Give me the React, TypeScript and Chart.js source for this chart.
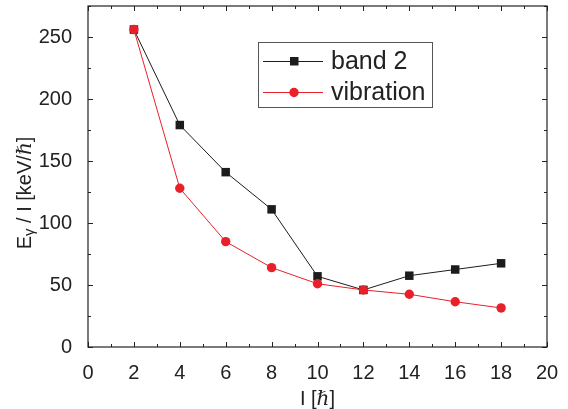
import React, { useEffect, useRef } from "react";
import { Chart, registerables } from "chart.js";

Chart.register(...registerables);

const spinI = [2, 4, 6, 8, 10, 12, 14, 16, 18];
const band2 = [256, 179, 141, 111, 57, 46, 57.5, 62.5, 67.5];
const vibration = [256, 128, 85, 64, 51, 46, 42.5, 36.5, 31.5];
const xTicks = [0, 2, 4, 6, 8, 10, 12, 14, 16, 18, 20];
const yTicks = [0, 50, 100, 150, 200, 250];
const legendLabels = ["band 2", "vibration"];

const BLACK = "#1c1c1c";
const RED = "#e8202a";
const FONT = "Arial, 'Liberation Sans', Helvetica, sans-serif";

const framePlugin = {
  id: "frame",
  afterDraw(chart: any) {
    const { ctx, chartArea: a } = chart;
    const xs = chart.scales.x;
    const ys = chart.scales.y;
    ctx.save();
    ctx.strokeStyle = "#222";
    ctx.lineWidth = 1.2;
    ctx.strokeRect(a.left, a.top, a.right - a.left, a.bottom - a.top);
    ctx.lineWidth = 1;
    ctx.beginPath();
    for (let v = 0; v <= 20; v += 1) {
      const px = Math.round(xs.getPixelForValue(v)) + 0.5;
      const len = v % 2 === 0 ? 5 : 3;
      ctx.moveTo(px, a.bottom);
      ctx.lineTo(px, a.bottom - len);
      ctx.moveTo(px, a.top);
      ctx.lineTo(px, a.top + len);
    }
    for (let v = 0; v <= 275; v += 25) {
      const py = Math.round(ys.getPixelForValue(v)) + 0.5;
      const len = v % 50 === 0 ? 5 : 3;
      ctx.moveTo(a.left, py);
      ctx.lineTo(a.left + len, py);
      ctx.moveTo(a.right, py);
      ctx.lineTo(a.right - len, py);
    }
    ctx.stroke();

    // axis titles
    ctx.fillStyle = "#222";
    ctx.textBaseline = "alphabetic";
    const cx = (a.left + a.right) / 2 - 0;
    const partsX: [string, string][] = [
      ["I [", `20px ${FONT}`],
      ["ℏ", `italic 20px 'Liberation Serif', 'DejaVu Serif', serif`],
      ["]", `20px ${FONT}`],
    ];
    let tw = 0;
    for (const [t, f] of partsX) {
      ctx.font = f;
      tw += ctx.measureText(t).width;
    }
    let x0 = cx - tw / 2;
    for (const [t, f] of partsX) {
      ctx.font = f;
      ctx.fillText(t, x0, 405);
      x0 += ctx.measureText(t).width;
    }

    ctx.save();
    ctx.translate(31, 193);
    ctx.rotate(-Math.PI / 2);
    const partsY: [string, string, number][] = [
      ["E", `20px ${FONT}`, 0],
      ["γ", `15px ${FONT}`, 3],
      [" / I [keV/", `20px ${FONT}`, 0],
      ["ℏ", `italic 20px 'Liberation Serif', 'DejaVu Serif', serif`, 0],
      ["]", `20px ${FONT}`, 0],
    ];
    tw = 0;
    for (const [t, f] of partsY) {
      ctx.font = f;
      tw += ctx.measureText(t).width;
    }
    x0 = -tw / 2;
    for (const [t, f, dy] of partsY) {
      ctx.font = f;
      ctx.fillText(t, x0, dy);
      x0 += ctx.measureText(t).width;
    }
    ctx.restore();

    // legend
    const lx = 258, ly = 42, lw = 174, lh = 65;
    ctx.fillStyle = "#fff";
    ctx.fillRect(lx, ly, lw, lh);
    ctx.strokeStyle = "#555";
    ctx.lineWidth = 1;
    ctx.strokeRect(lx + 0.5, ly + 0.5, lw, lh);
    const rows = [
      { y: 61, color: BLACK, shape: "rect" },
      { y: 92, color: RED, shape: "circle" },
    ];
    rows.forEach((r, i) => {
      ctx.strokeStyle = r.color;
      ctx.fillStyle = r.color;
      ctx.lineWidth = 1;
      ctx.beginPath();
      ctx.moveTo(263, r.y + 0.5);
      ctx.lineTo(323, r.y + 0.5);
      ctx.stroke();
      ctx.beginPath();
      if (r.shape === "rect") {
        ctx.rect(290, r.y - 4, 8.5, 8.5);
      } else {
        ctx.arc(294, r.y + 0.5, 4.7, 0, Math.PI * 2);
      }
      ctx.fill();
      ctx.fillStyle = "#222";
      ctx.font = `25px ${FONT}`;
      ctx.textBaseline = "middle";
      ctx.fillText(legendLabels[i], 331, r.y + 1);
    });
    ctx.restore();
  },
};

export default function App() {
  const ref = useRef<HTMLCanvasElement | null>(null);
  useEffect(() => {
    document.body.style.margin = "0";
    const chart = new Chart(ref.current!, {
      type: "line",
      data: {
        datasets: [
          {
            label: legendLabels[0],
            data: spinI.map((x, i) => ({ x, y: band2[i] })),
            borderColor: BLACK,
            backgroundColor: BLACK,
            borderWidth: 1,
            pointStyle: "rect",
            pointRadius: 6,
            pointBorderWidth: 0,
            order: 1,
          },
          {
            label: legendLabels[1],
            data: spinI.map((x, i) => ({ x, y: vibration[i] })),
            borderColor: RED,
            backgroundColor: RED,
            borderWidth: 1,
            pointStyle: "circle",
            pointRadius: 4.7,
            pointBorderWidth: 0,
            order: 0,
          },
        ],
      },
      options: {
        animation: false,
        responsive: false,
        maintainAspectRatio: false,
        layout: { padding: { top: 5, right: 21, left: 0, bottom: 0 } },
        plugins: { legend: { display: false }, tooltip: { enabled: false } },
        scales: {
          x: {
            type: "linear",
            min: 0,
            max: 20,
            afterBuildTicks: (s: any) => {
              s.ticks = xTicks.map((v) => ({ value: v }));
            },
            afterFit: (s: any) => {
              s.height = 62;
              s.paddingLeft = 0;
              s.paddingRight = 0;
            },
            grid: { display: false },
            border: { display: false },
            ticks: {
              color: "#222",
              font: { family: FONT, size: 20 },
              padding: 6,
              maxRotation: 0,
              autoSkip: false,
            },
          },
          y: {
            type: "linear",
            min: 0,
            max: 275,
            afterBuildTicks: (s: any) => {
              s.ticks = yTicks.map((v) => ({ value: v }));
            },
            afterFit: (s: any) => {
              s.width = 88;
              s.paddingTop = 0;
              s.paddingBottom = 0;
            },
            grid: { display: false },
            border: { display: false },
            ticks: {
              color: "#222",
              font: { family: FONT, size: 20 },
              padding: 8,
              autoSkip: false,
            },
          },
        },
      },
      plugins: [framePlugin],
    } as any);
    return () => chart.destroy();
  }, []);
  return (
    <div style={{ position: "fixed", left: 0, top: 0, width: 568, height: 409 }}>
      <canvas ref={ref} width={568} height={409} style={{ width: 568, height: 409 }} />
    </div>
  );
}
